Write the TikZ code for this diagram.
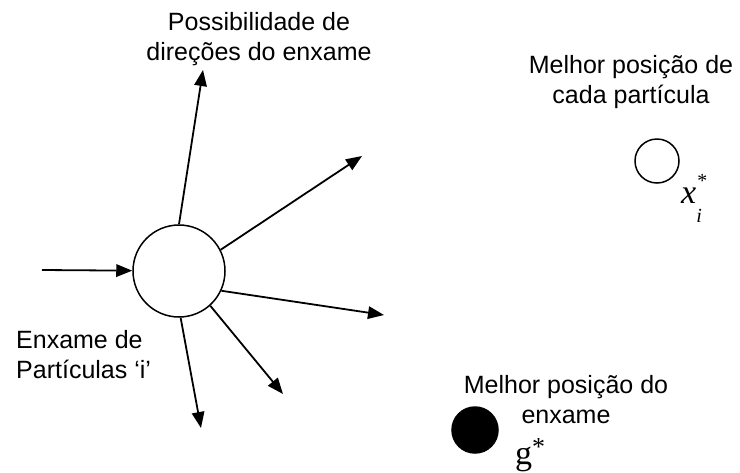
\documentclass[tikz,border=0pt]{standalone}
\usepackage{fontspec}
\setmainfont{Liberation Sans}
\newfontfamily\serifa{Liberation Serif}
\usetikzlibrary{arrows.meta}
\begin{document}
\begin{tikzpicture}[x=1pt, y=-1pt,
    seta/.style={-{Triangle[length=16pt,width=12.5pt]}, line width=1.8pt},
    rotulo/.style={align=center, font=\fontsize{25}{30}\selectfont, inner sep=0pt},
    simbolo/.style={font=\serifa\fontsize{34}{36}\selectfont, inner sep=0pt}]
    \useasboundingbox (0,0) rectangle (740,472);
    \begin{scope}[every node/.style={circle, draw, line width=1.5pt, inner sep=0pt}]

        \node[minimum size=92pt] (enxame) at (179,271) {};
        \node[minimum size=44pt] (pbest) at (657,161) {};
        \node[minimum size=46pt, fill] (gbest) at (475,430) {};
    \end{scope}

    \coordinate (entrada) at (42,270);
    \coordinate (d1) at (203,70);
    \coordinate (d2) at (362,156);
    \coordinate (d3) at (384,315);
    \coordinate (d4) at (283,394);
    \coordinate (d5) at (201,428);

    \draw[seta] (entrada) -- (enxame);
    \draw[seta] (enxame.90) -- (d1);
    \draw[seta] (enxame.27) -- (d2);
    \draw[seta] (enxame.-25) -- (d3);
    \draw[seta] (enxame.-48) -- (d4);
    \draw[seta] (enxame.-88) -- (d5);

    \node[rotulo] (direcoes) at (259,39) {Possibilidade de\\direções do enxame};
    \node[rotulo] (melhorp) at (631,82) {Melhor posição de\\cada partícula};
    \node[rotulo, align=left, anchor=west] (particulas) at (16,355) {Enxame de\\Partículas ‘i’};
    \node[rotulo] (melhorg) at (566,400) {Melhor posição do\\enxame};

    \node[simbolo, anchor=base west] (xi) at (681,203)
        {\itshape x\rlap{\fontsize{20}{20}\selectfont\raisebox{16pt}{*}}\raisebox{-19pt}{\fontsize{20}{20}\selectfont i}};
    \node[simbolo, anchor=base west] (gs) at (515,464)
        {g\raisebox{9pt}{\fontsize{26}{26}\selectfont *}};
\end{tikzpicture}
\end{document}
